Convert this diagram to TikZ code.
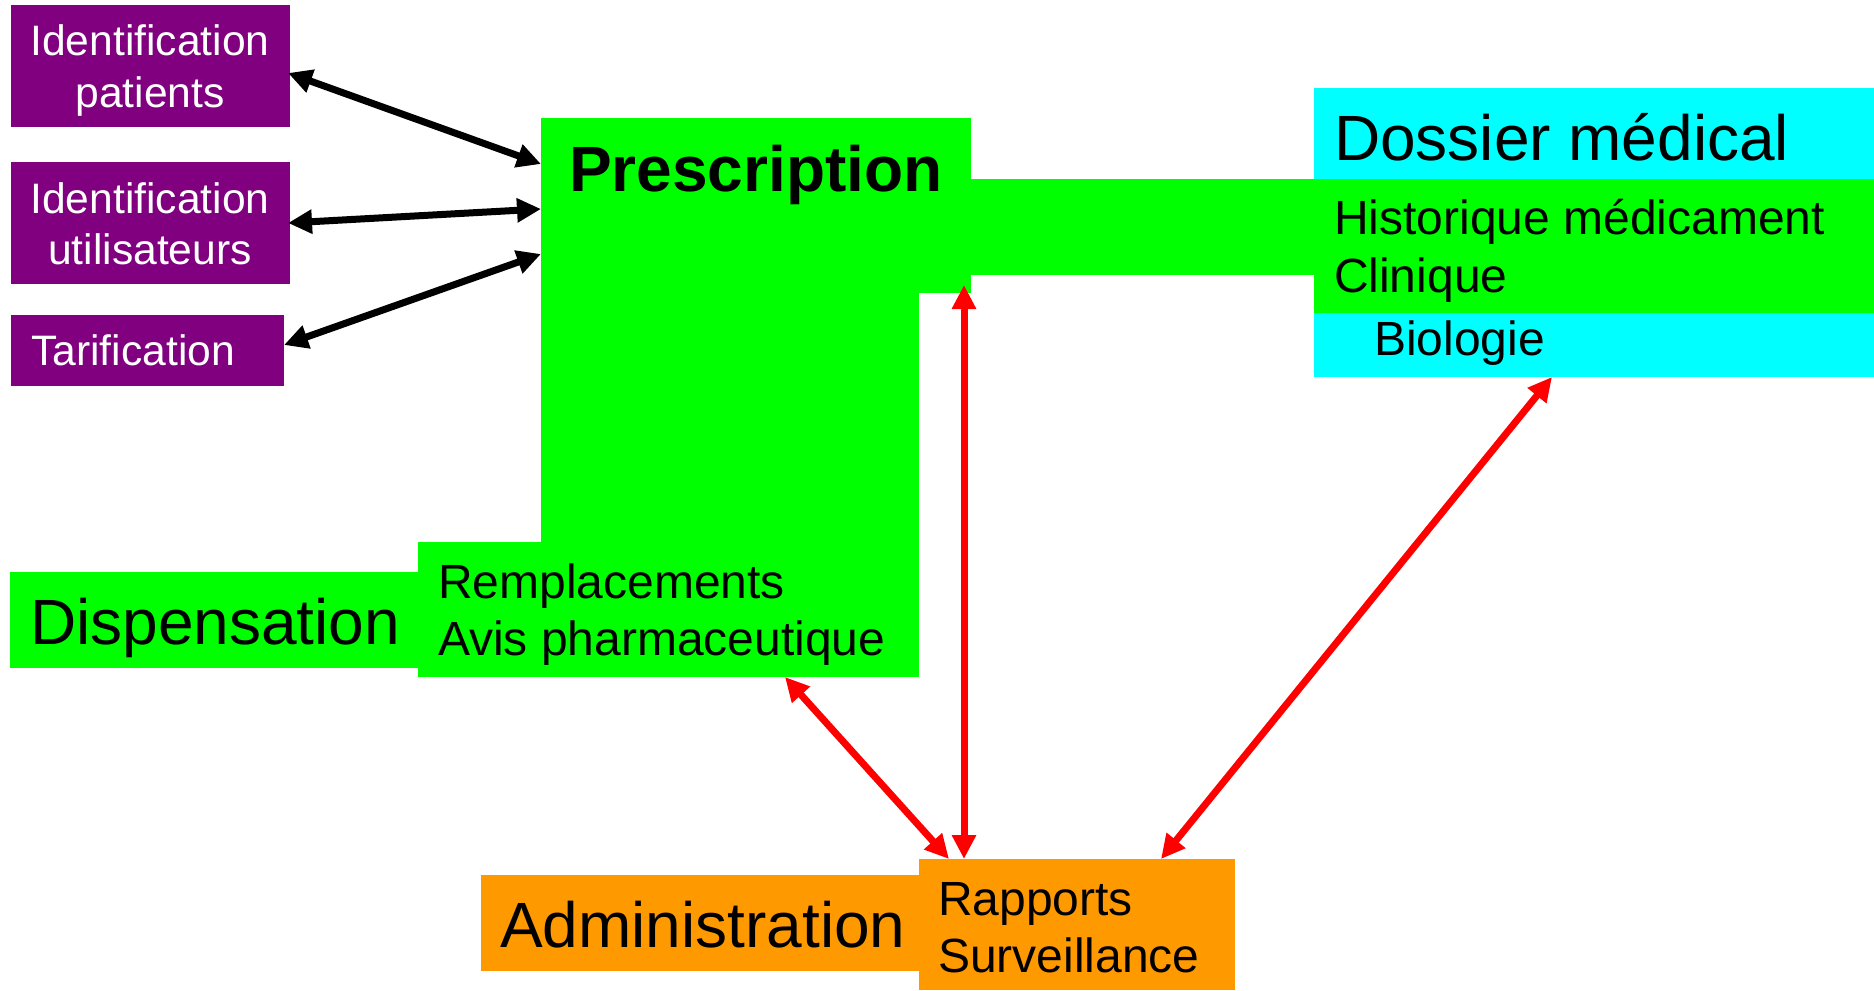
\documentclass[tikz,border=0pt]{standalone}
\usepackage{fontspec}
\setmainfont{Liberation Sans}
\usetikzlibrary{arrows.meta,calc}
\definecolor{purp}{RGB}{128,0,128}
\definecolor{grn}{RGB}{0,255,0}
\definecolor{cyn}{RGB}{0,255,255}
\definecolor{orng}{RGB}{255,153,0}
\definecolor{rd}{RGB}{255,0,0}
\tikzset{
  rbox/.style={rectangle, inner sep=0pt, outer sep=0pt, draw=none, anchor=north west},
  txt/.style={inner sep=0pt, outer sep=0pt, anchor=base west, text=black},
  big/.style={font=\fontsize{64bp}{76bp}\selectfont},
  mid/.style={font=\fontsize{48bp}{57bp}\selectfont},
  sml/.style={font=\fontsize{42.6bp}{50bp}\selectfont, text=white},
  dbl/.style={line width=7bp, {Triangle[length=24bp,width=23bp]}-{Triangle[length=24bp,width=23bp]}},
}
\begin{document}
\begin{tikzpicture}[x=1bp,y=-1bp]
\useasboundingbox (0,0) rectangle (1874,990);
\fill[white] (0,0) rectangle (1874,990);
% purple boxes
\node[rbox, fill=purp, minimum width=279bp, minimum height=122bp] (idp) at (11,5) {};
\node[rbox, fill=purp, minimum width=279bp, minimum height=122bp] (idu) at (11,162) {};
\node[rbox, fill=purp, minimum width=273bp, minimum height=71bp] (tar) at (11,315) {};
% green prescription shape
\node[rbox, fill=grn, minimum width=430bp, minimum height=175bp] (presc) at (541,118) {};
\fill[grn] (541,290) rectangle (919,545);
\node[rbox, fill=grn, minimum width=346bp, minimum height=96bp] (band) at (969,179) {};
\node[rbox, fill=grn, minimum width=501bp, minimum height=135bp] (rempl) at (418,542) {};
\node[rbox, fill=grn, minimum width=410bp, minimum height=96bp] (disp) at (10,572) {};
% dossier
\node[rbox, fill=cyn, minimum width=560bp, minimum height=289bp] (dos) at (1314,88) {};
\node[rbox, fill=grn, minimum width=560bp, minimum height=134bp] (dosg) at (1314,179) {};
% administration
\node[rbox, fill=orng, minimum width=440bp, minimum height=96bp] (admin) at (481,875) {};
\node[rbox, fill=orng, minimum width=316bp, minimum height=131bp] (rapp) at (919,859) {};
% texts
\node[sml, inner sep=0pt, anchor=base] (t1) at (150,55) {Identification};
\node[sml, inner sep=0pt, anchor=base] (t2) at (150,107) {patients};
\node[sml, inner sep=0pt, anchor=base] (t3) at (150,213) {Identification};
\node[sml, inner sep=0pt, anchor=base] (t4) at (150,264) {utilisateurs};
\node[sml, inner sep=0pt, anchor=base west] (t5) at (31,365) {Tarification};
\node[txt, font=\bfseries\fontsize{64bp}{76bp}\selectfont] (t6) at (569,191) {Prescription};
\node[txt, big] (t7) at (1334,160) {Dossier médical};
\node[txt, mid] (t8) at (1334,234) {Historique médicament};
\node[txt, mid] (t9) at (1334,292) {Clinique};
\node[txt, mid] (t10) at (1374,355) {Biologie};
\node[txt, big] (t11) at (30,644) {Dispensation};
\node[txt, mid] (t12) at (438,598) {Remplacements};
\node[txt, mid] (t13) at (438,655) {Avis pharmaceutique};
\node[txt, big] (t14) at (500,947) {Administration};
\node[txt, mid] (t15) at (938,915) {Rapports};
\node[txt, mid] (t16) at (938,972) {Surveillance};
% black arrows
\draw[dbl, black] ($(idp.north east)+(-2,68)$) -- ($(presc.north west)+(0,46)$);
\draw[dbl, black] ($(idu.east)+(-2,0)$) -- ($(presc.north west)+(0,91)$);
\draw[dbl, black] ($(tar.north east)+(0,30)$) -- ($(presc.north west)+(0,136)$);
% red arrows
\draw[dbl, rd] ($(presc.south west)+(423,-8)$) -- ($(rapp.north west)+(45,0)$);
\draw[dbl, rd] ($(rempl.south west)+(367,0)$) -- ($(rapp.north west)+(30,0)$);
\draw[dbl, rd] ($(dos.south west)+(238,0)$) -- ($(rapp.north west)+(242,0)$);
\end{tikzpicture}
\end{document}
